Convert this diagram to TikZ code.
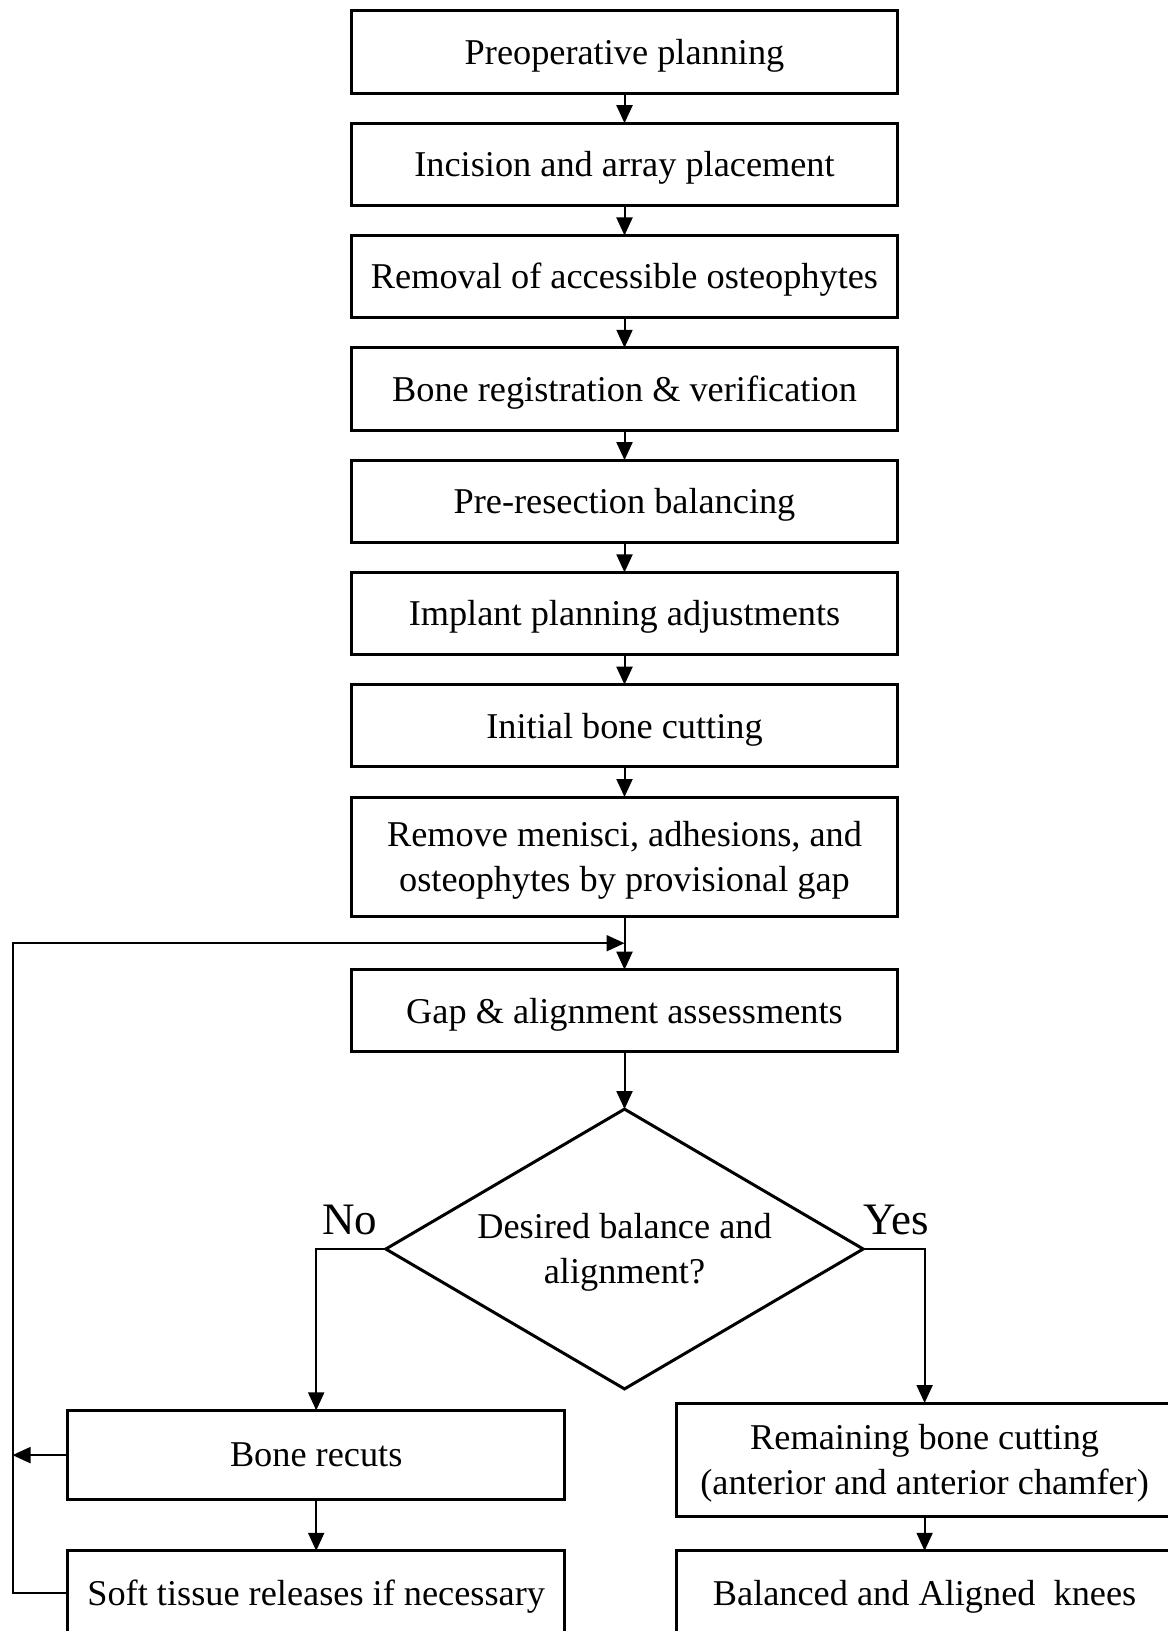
\documentclass[tikz,border=0pt]{standalone}
\usepackage{fontspec}
\setmainfont{Liberation Serif}
\usetikzlibrary{arrows.meta, positioning, shapes.geometric}

\newcommand{\toplift}{\rule{0pt}{16.3pt}}

\begin{document}
\begin{tikzpicture}[
    x=0.5pt, y=-0.5pt,
    node distance=15.05pt,
    box/.style={rectangle, draw, line width=1.5pt, inner sep=0pt, outer sep=0pt,
                minimum width=273pt, minimum height=41.1pt, align=center,
                font=\fontsize{18.15}{22.4}\selectfont},
    sbox/.style={box, minimum width=248.6pt},
    dec/.style={diamond, draw, line width=1.5pt, inner sep=0pt, outer sep=0pt,
                aspect=1.706, minimum width=238.7pt, minimum height=139.9pt,
                align=center, font=\fontsize{18.15}{22.4}\selectfont},
    lbl/.style={inner sep=0pt, font=\fontsize{22.5}{27}\selectfont},
    arr/.style={-{Triangle[length=9pt, width=8pt]}, line width=1pt}
]
  \useasboundingbox (0,0) rectangle (1167,1631);

  \node[box] (plan) at (624.5,52) {\toplift Preoperative planning};
  \node[box, below=of plan]  (incis) {\toplift Incision and array placement};
  \node[box, below=of incis] (osteo) {\toplift Removal of accessible osteophytes};
  \node[box, below=of osteo] (regis) {\toplift Bone registration \& verification};
  \node[box, below=of regis] (prebal) {\toplift Pre-resection balancing};
  \node[box, below=of prebal] (impl) {\toplift Implant planning adjustments};
  \node[box, below=of impl]  (cut)  {\toplift Initial bone cutting};
  \node[box, below=of cut, minimum height=59.8pt] (menis) {\toplift Remove menisci, adhesions, and\\
                                                          osteophytes by provisional gap};
  \node[box, below=26.55pt of menis] (gap) {\toplift Gap \& alignment assessments};
  \node[dec, below=28.6pt of gap] (check) {\toplift Desired balance and\\alignment?};

  \node[sbox, minimum height=44.7pt] (recut) at (316.2,1455.1) {Bone recuts};
  \node[sbox, minimum height=42pt]   (soft)  at (316.2,1592.8) {\toplift Soft tissue releases if necessary};
  \node[sbox, minimum height=56.8pt] (remain) at (924.6,1459.8) {\toplift Remaining bone cutting\\
                                                                (anterior and anterior chamfer)};
  \node[sbox, minimum height=42pt]   (knee)  at (924.6,1592.8) {\toplift Balanced and Aligned~ knees};

  \node[lbl, above left=7pt and 4pt of check.west]  (no)  {No};
  \node[lbl, above right=7pt and 0pt of check.east] (yes) {Yes};

  \coordinate[below=13.3pt of menis] (join);
  \coordinate (edge) at (12.5,0);

  \draw[arr] (plan)   -- (incis);
  \draw[arr] (incis)  -- (osteo);
  \draw[arr] (osteo)  -- (regis);
  \draw[arr] (regis)  -- (prebal);
  \draw[arr] (prebal) -- (impl);
  \draw[arr] (impl)   -- (cut);
  \draw[arr] (cut)    -- (menis);
  \draw[arr] (menis)  -- (gap);
  \draw[arr] (gap)    -- (check);
  \draw[arr] (check.west) -| (recut.north);
  \draw[arr] (check.east) -| (remain.north);
  \draw[arr] (recut)  -- (soft);
  \draw[arr] (remain) -- (knee);
  \draw[arr] (soft.west) -- (soft.west -| edge) |- (join);
  \draw[arr] (recut.west) -- (recut.west -| edge);
\end{tikzpicture}
\end{document}
